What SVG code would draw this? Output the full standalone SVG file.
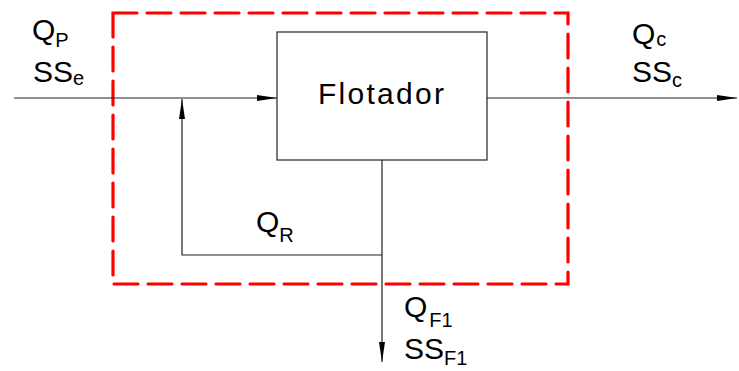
<svg xmlns="http://www.w3.org/2000/svg" width="739" height="371" viewBox="0 0 739 371">
<style>
text{font-family:"Liberation Sans",Arial,sans-serif;fill:#000;font-size:30px}
.sub{font-size:20px}
.ln{stroke:#222;stroke-width:1.2;fill:none}
</style>
<defs>
<marker id="ah" viewBox="0 0 20 8" refX="20" refY="4" markerWidth="20" markerHeight="8" markerUnits="userSpaceOnUse" orient="auto">
<path d="M0,1 L20,4 L0,7 Z" fill="#000"/>
</marker>
</defs>
<rect width="739" height="371" fill="#fff"/>
<g id="boundary">
<rect x="113" y="13" width="455" height="271" fill="none" stroke="#f00" stroke-width="3.2" stroke-dasharray="24,10" stroke-linecap="round"/>
</g>
<g id="flotador">
<rect x="277" y="32" width="210" height="128" fill="#fff" stroke="#222" stroke-width="1.2"/>
<text x="318" y="104" font-size="33" textLength="126" lengthAdjust="spacing">Flotador</text>
</g>
<g id="connectors">
<path class="ln" d="M14,98 H277" marker-end="url(#ah)"/>
<path class="ln" d="M487,98 H737" marker-end="url(#ah)"/>
<path class="ln" d="M382,160 V362" marker-end="url(#ah)"/>
<path class="ln" d="M382,255 H182 V99" marker-end="url(#ah)"/>
</g>
<g id="labels">
<text x="32" y="40">Q<tspan class="sub" dy="7">P</tspan></text>
<text x="33" y="82">SS<tspan class="sub" dy="3">e</tspan></text>
<text x="632" y="44">Q<tspan class="sub" dx="1" dy="2">c</tspan></text>
<text x="632" y="82">SS<tspan class="sub" dy="5">c</tspan></text>
<text x="256" y="232">Q<tspan class="sub" dy="10">R</tspan></text>
<text x="404" y="317">Q<tspan class="sub" dx="2" dy="10">F1</tspan></text>
<text x="404" y="359">SS<tspan class="sub" dy="6">F1</tspan></text>
</g>
</svg>
